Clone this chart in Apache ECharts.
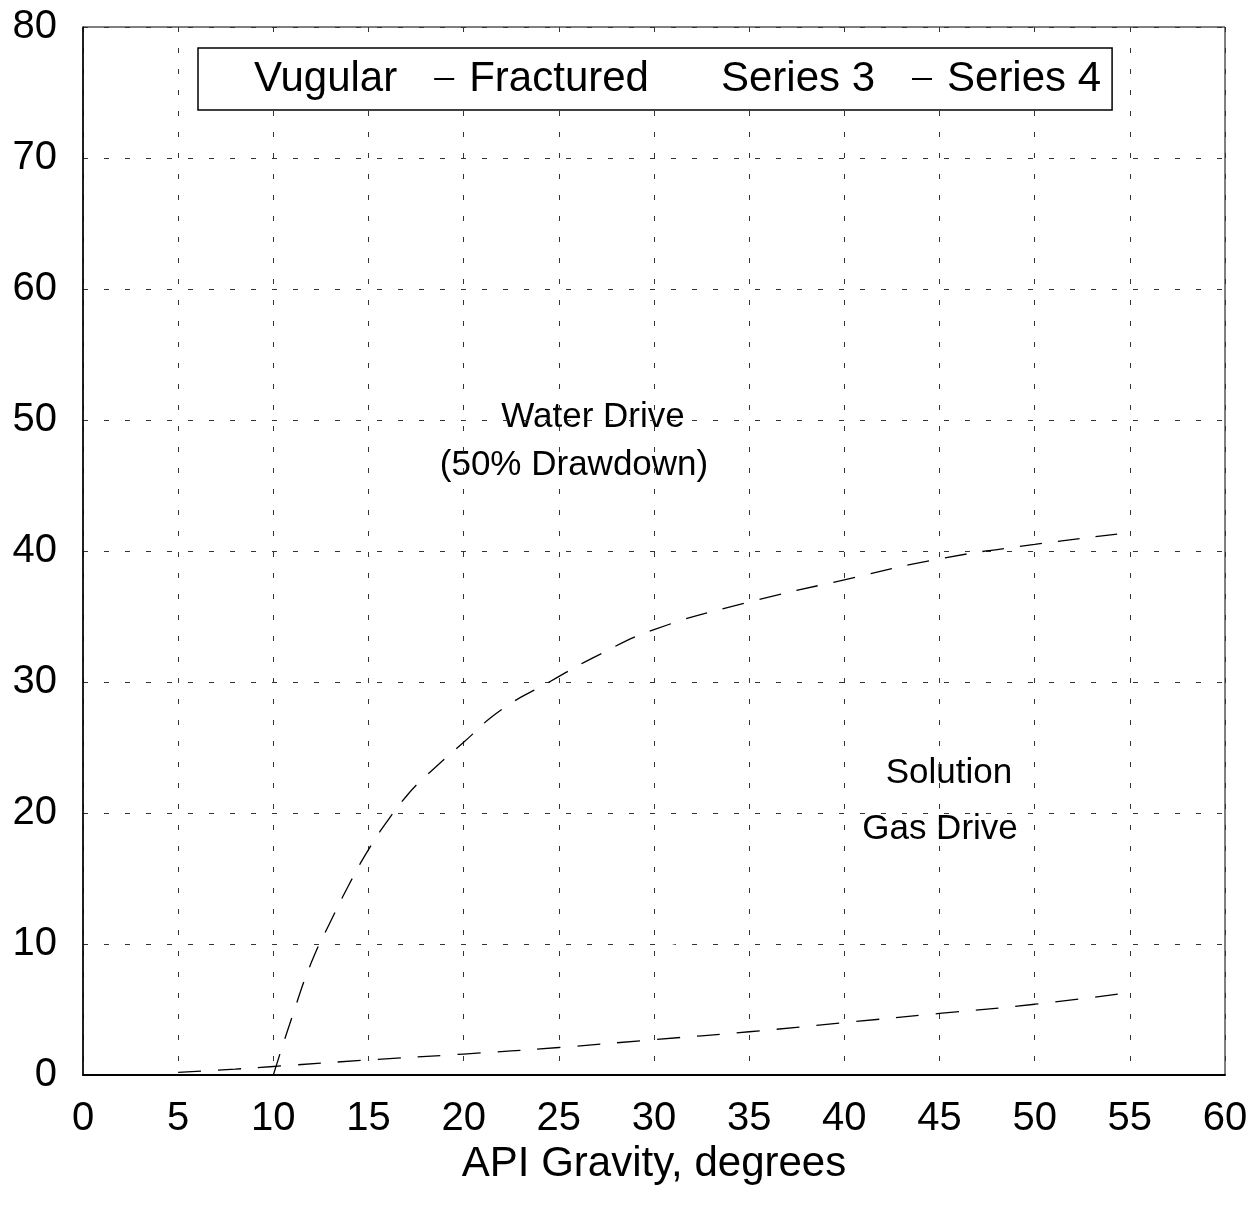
<!DOCTYPE html>
<html>
<head>
<meta charset="utf-8">
<title>API Gravity chart</title>
<script src="https://cdn.jsdelivr.net/npm/echarts@6/dist/echarts.min.js"></script>
<style>
  html, body { margin: 0; padding: 0; background: #fff; }
  #chart { width: 1256px; height: 1209px; }
</style>
</head>
<body>
<div id="chart"></div>
<script>
  // values: [API gravity, y]
  var seriesNames = ['Vugular', 'Fractured', 'Series 3', 'Series 4'];
  var vugular = [[50, 48.3]];
  var fractured = [[10, 0], [11, 4.5], [12, 8.6], [13, 11.7], [14, 14.6], [15, 17.2], [16, 19.4],
    [17, 21.3], [18, 22.8], [20, 25.4], [22, 27.9], [24.5, 30], [27, 32], [30, 34], [35, 36.1],
    [40, 37.8], [45, 39.4], [50, 40.5], [55, 41.4]];
  var series3 = [[30, 9.7], [35, 11.4], [40, 13.2], [45, 14.9]];
  var series4 = [[5, 0.2], [8, 0.45], [10, 0.65], [15, 1.15], [20, 1.6], [25, 2.1], [30, 2.7],
    [35, 3.3], [40, 4.0], [45, 4.7], [50, 5.4], [55, 6.3]];
  var xTicks = [0, 5, 10, 15, 20, 25, 30, 35, 40, 45, 50, 55, 60];
  var yTicks = [0, 10, 20, 30, 40, 50, 60, 70, 80];

  var font = 'Liberation Sans, Arial, sans-serif';
  var gridLine = { show: true, lineStyle: { color: '#333', width: 1, type: [5, 16] } };

  function label(text, x, y) {
    return {
      type: 'text', x: x, y: y,
      style: { text: text, fontSize: 35, fontFamily: font, fill: '#000', align: 'center', verticalAlign: 'middle' }
    };
  }

  var myChart = echarts.init(document.getElementById('chart'));
  myChart.setOption({
    animation: false,
    backgroundColor: '#fff',
    textStyle: { fontFamily: font },
    grid: {
      left: 83, right: 31, top: 27, bottom: 134,
      show: true, borderColor: '#000', borderWidth: 1
    },
    legend: {
      data: seriesNames,
      left: 198,
      top: 48,
      padding: [10, 11, 10, 21],
      itemGap: 37,
      itemWidth: 20,
      itemHeight: 2,
      icon: 'rect',
      borderColor: '#000',
      borderWidth: 1.5,
      backgroundColor: '#fff',
      textStyle: { fontSize: 42, color: '#000', fontFamily: font, padding: [0, 0, 0, 10] }
    },
    xAxis: {
      type: 'value',
      min: xTicks[0],
      max: xTicks[xTicks.length - 1],
      interval: 5,
      name: 'API Gravity, degrees',
      nameLocation: 'middle',
      nameGap: 57,
      nameTextStyle: { fontSize: 42, color: '#000', fontFamily: font },
      axisLine: { show: true, lineStyle: { color: '#000', width: 2 } },
      axisTick: { show: false },
      axisLabel: { fontSize: 40, color: '#000', margin: 24, fontFamily: font },
      splitLine: gridLine
    },
    yAxis: {
      type: 'value',
      min: yTicks[0],
      max: yTicks[yTicks.length - 1],
      interval: 10,
      axisLine: { show: true, lineStyle: { color: '#000', width: 1.5 } },
      axisTick: { show: false },
      axisLabel: { fontSize: 40, color: '#000', margin: 26, fontFamily: font },
      splitLine: gridLine
    },
    graphic: [
      label('Water Drive', 593, 417),
      label('(50% Drawdown)', 574, 465),
      label('Solution', 949, 773),
      label('Gas Drive', 940, 829)
    ],
    series: [
      {
        name: 'Vugular', type: 'line', data: vugular, smooth: true, showSymbol: false,
        color: '#fff', lineStyle: { color: '#fff', width: 2 }
      },
      {
        name: 'Fractured', type: 'line', data: fractured, smooth: true, showSymbol: false,
        color: '#000', lineStyle: { color: '#000', width: 1.3, type: [22, 16] }
      },
      {
        name: 'Series 3', type: 'line', data: series3, smooth: true, showSymbol: false,
        color: '#fff', lineStyle: { color: '#fff', width: 2 }
      },
      {
        name: 'Series 4', type: 'line', data: series4, smooth: true, showSymbol: false,
        color: '#000', lineStyle: { color: '#000', width: 1.3, type: [23, 17] }
      }
    ]
  });
</script>
</body>
</html>
